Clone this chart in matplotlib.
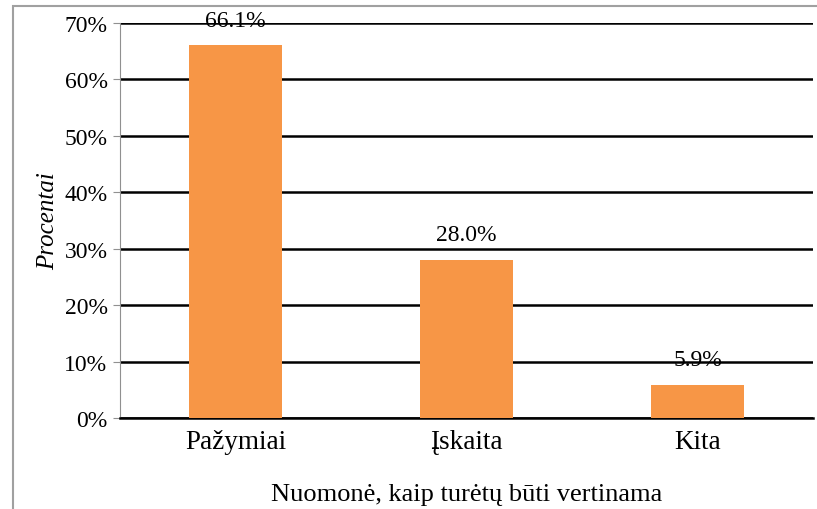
import matplotlib
matplotlib.use("Agg")
import matplotlib.pyplot as plt
from matplotlib.patches import Rectangle
from matplotlib.ticker import FuncFormatter

categories = ["Pažymiai", "Įskaita", "Kita"]
values = [66.1, 28.0, 5.9]
yticks = [0, 10, 20, 30, 40, 50, 60, 70]

plt.rcParams['font.family'] = ['Liberation Serif', 'DejaVu Serif']

W, H = 817, 510
fig = plt.figure(figsize=(W/100, H/100), dpi=100)
fig.patches.append(Rectangle((13/W, -0.1), 1.2, 1 - 7/H + 0.1, transform=fig.transFigure,
                             fill=False, edgecolor='#a0a0a0', linewidth=1.5))
ax = fig.add_axes([120/W, 1 - 419/H, 693/W, 395/H])
x = list(range(len(categories)))
ax.bar(x, values, width=0.40, color='#F79646', zorder=3)
ax.set_xlim(-0.5, len(categories) - 0.5)
ax.set_ylim(0, 70)
ax.set_yticks(yticks)
ax.yaxis.set_major_formatter(FuncFormatter(lambda v, p: f"{v:.0f}%"))
ax.grid(axis='y', color='black', linewidth=1.8, zorder=1)
ax.set_axisbelow(True)
for s in ['top', 'right']:
    ax.spines[s].set_visible(False)
ax.spines['left'].set_color('#909090')
ax.spines['bottom'].set_color('black')
ax.spines['bottom'].set_linewidth(1.8)
ax.tick_params(axis='y', length=5, color='#909090', labelsize=17, pad=4)
ax.tick_params(axis='x', length=0, labelsize=19.5, pad=8)
ax.set_xticks(x)
ax.set_xticklabels(categories)
for xi, v in zip(x, values):
    ax.annotate(f"{v:.1f}%", (xi, v), xytext=(0, 18), textcoords='offset points',
                ha='center', va='center', fontsize=17, zorder=5)
ax.set_ylabel("Procentai", fontsize=18, style='italic', labelpad=4)
ax.set_xlabel("Nuomonė, kaip turėtų būti vertinama", fontsize=19, labelpad=21)
fig.savefig("out.png", dpi=100)
